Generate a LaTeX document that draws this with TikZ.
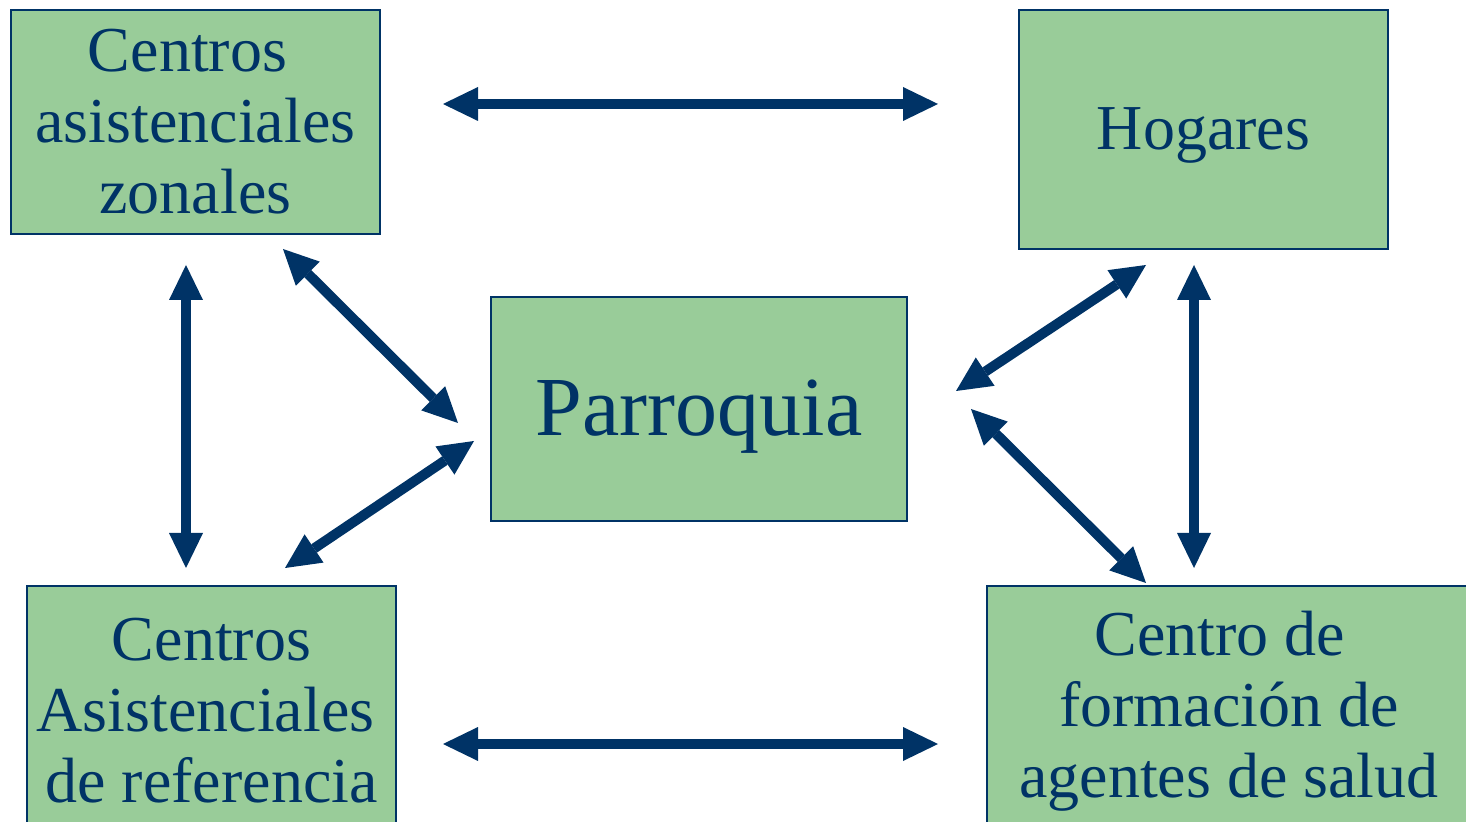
\documentclass[tikz,border=0pt]{standalone}
\usepackage{fontspec}
\setmainfont{Liberation Serif}
\usetikzlibrary{arrows.meta}
\usetikzlibrary{positioning}
\definecolor{navy}{RGB}{0,51,102}
\definecolor{boxgreen}{RGB}{153,204,153}
\tikzset{
    font={\fontsize{32pt}{35.5pt}\selectfont},
    block/.style={
           rectangle,
           draw=navy, line width=1pt,
           fill=boxgreen,
           text=navy,
           inner sep=0pt,
           anchor=north west,
           align=center,
           },
    link/.style={
           {Triangle[length=17.5pt,width=17pt,line width=0pt]}-{Triangle[length=17.5pt,width=17pt,line width=0pt]},
           draw=navy, line width=5pt,
           },
}

\begin{document}
\begin{tikzpicture}[x=0.5pt,y=-0.5pt]
\useasboundingbox (0,0) rectangle (1466,822);
\clip (0,0) rectangle (1466,822);

% top row
\node[block, minimum width=184.5pt, minimum height=112pt] (CAZ) at (10,9)
    {Centros\rule{8pt}{0pt}\\asistenciales\\zonales};
\node[block, minimum width=184.5pt, minimum height=119.5pt] (HOGARES) at (1018,9)
    {\raisebox{-3pt}[\height][\depth]{Hogares}};

% centre
\node[block, minimum width=208pt, minimum height=112pt, font={\fontsize{42pt}{46pt}\selectfont}] (PARROQUIA) at (490,296)
    {\raisebox{-4pt}[\height][\depth]{Parroquia}};

% bottom row (boxes run past the lower edge)
\node[block, minimum width=184.5pt, minimum height=125pt] (CAR) at (26,585)
    {Centros\\Asistenciales\rule{6pt}{0pt}\\de referencia};
\node[block, minimum width=242pt, minimum height=125pt] (CFAS) at (986,585)
    {Centro de\rule{9pt}{0pt}\\formaci\'on de\\agentes de salud};

% arrow ends
\coordinate (CAZ-HOG-a) at (443,104);
\coordinate (CAZ-HOG-b) at (938,104);
\coordinate (CAR-CFAS-a) at (443,744);
\coordinate (CAR-CFAS-b) at (938,744);
\coordinate (CAZ-CAR-a) at (186,265);
\coordinate (CAZ-CAR-b) at (186,568);
\coordinate (HOG-CFAS-a) at (1194,265);
\coordinate (HOG-CFAS-b) at (1194,568);
\coordinate (CAZ-PAR-a) at (283,249);
\coordinate (CAZ-PAR-b) at (458,423);
\coordinate (CAR-PAR-a) at (285,568);
\coordinate (CAR-PAR-b) at (474,441);
\coordinate (HOG-PAR-a) at (1146,265);
\coordinate (HOG-PAR-b) at (956,391);
\coordinate (CFAS-PAR-a) at (1146,583);
\coordinate (CFAS-PAR-b) at (971,409);

\draw[link] (CAZ-HOG-a)  -- (CAZ-HOG-b);
\draw[link] (CAR-CFAS-a) -- (CAR-CFAS-b);
\draw[link] (CAZ-CAR-a)  -- (CAZ-CAR-b);
\draw[link] (HOG-CFAS-a) -- (HOG-CFAS-b);
\draw[link] (CAZ-PAR-a)  -- (CAZ-PAR-b);
\draw[link] (CAR-PAR-a)  -- (CAR-PAR-b);
\draw[link] (HOG-PAR-a)  -- (HOG-PAR-b);
\draw[link] (CFAS-PAR-a) -- (CFAS-PAR-b);

\end{tikzpicture}
\end{document}
